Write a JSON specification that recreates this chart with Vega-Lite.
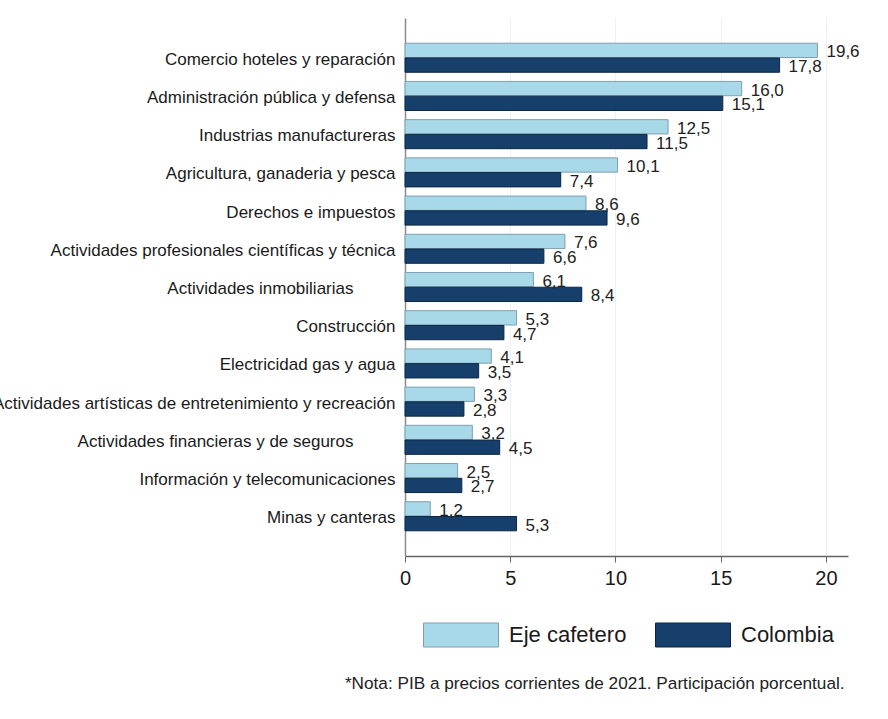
{
  "$schema": "https://vega.github.io/schema/vega-lite/v6.json",
  "width": 443,
  "height": 538,
  "autosize": {"type": "none"},
  "padding": {"left": 405, "top": 18, "right": 40, "bottom": 163},
  "background": "white",
  "config": {
    "font": "Liberation Sans",
    "view": {"stroke": null},
    "locale": {"number": {"decimal": ",", "thousands": ".", "grouping": [3], "currency": ["$", ""]}}
  },
  "title": {
    "text": "*Nota: PIB a precios corrientes de 2021. Participación porcentual.",
    "orient": "bottom",
    "anchor": "end",
    "fontSize": 17.2,
    "fontWeight": "normal",
    "color": "#222222",
    "offset": 26,
    "dx": -15
  },
  "data": {
    "values": [
      {"sector": "Comercio hoteles y reparación", "serie": "Eje cafetero", "valor": 19.6},
      {"sector": "Comercio hoteles y reparación", "serie": "Colombia", "valor": 17.8},
      {"sector": "Administración pública y defensa", "serie": "Eje cafetero", "valor": 16.0},
      {"sector": "Administración pública y defensa", "serie": "Colombia", "valor": 15.1},
      {"sector": "Industrias manufactureras", "serie": "Eje cafetero", "valor": 12.5},
      {"sector": "Industrias manufactureras", "serie": "Colombia", "valor": 11.5},
      {"sector": "Agricultura, ganaderia y pesca", "serie": "Eje cafetero", "valor": 10.1},
      {"sector": "Agricultura, ganaderia y pesca", "serie": "Colombia", "valor": 7.4},
      {"sector": "Derechos e impuestos", "serie": "Eje cafetero", "valor": 8.6},
      {"sector": "Derechos e impuestos", "serie": "Colombia", "valor": 9.6},
      {"sector": "Actividades profesionales científicas y técnica", "serie": "Eje cafetero", "valor": 7.6},
      {"sector": "Actividades profesionales científicas y técnica", "serie": "Colombia", "valor": 6.6},
      {"sector": "Actividades inmobiliarias", "serie": "Eje cafetero", "valor": 6.1},
      {"sector": "Actividades inmobiliarias", "serie": "Colombia", "valor": 8.4},
      {"sector": "Construcción", "serie": "Eje cafetero", "valor": 5.3},
      {"sector": "Construcción", "serie": "Colombia", "valor": 4.7},
      {"sector": "Electricidad gas y agua", "serie": "Eje cafetero", "valor": 4.1},
      {"sector": "Electricidad gas y agua", "serie": "Colombia", "valor": 3.5},
      {"sector": "Actividades artísticas de entretenimiento y recreación", "serie": "Eje cafetero", "valor": 3.3},
      {"sector": "Actividades artísticas de entretenimiento y recreación", "serie": "Colombia", "valor": 2.8},
      {"sector": "Actividades financieras y de seguros", "serie": "Eje cafetero", "valor": 3.2},
      {"sector": "Actividades financieras y de seguros", "serie": "Colombia", "valor": 4.5},
      {"sector": "Información y telecomunicaciones", "serie": "Eje cafetero", "valor": 2.5},
      {"sector": "Información y telecomunicaciones", "serie": "Colombia", "valor": 2.7},
      {"sector": "Minas y canteras", "serie": "Eje cafetero", "valor": 1.2},
      {"sector": "Minas y canteras", "serie": "Colombia", "valor": 5.3}
    ]
  },
  "encoding": {
    "y": {
      "field": "sector",
      "type": "nominal",
      "sort": null,
      "scale": {"paddingInner": 0.24, "paddingOuter": 0.66},
      "axis": {
        "title": null,
        "ticks": false,
        "labelFontSize": 17,
        "labelColor": "#1a1a1a",
        "labelOffset": 2,
        "labelPadding": {
          "condition": {"test": "datum.value === 'Actividades inmobiliarias' || datum.value === 'Actividades financieras y de seguros'", "value": 52},
          "value": 10
        },
        "labelLimit": 0,
        "domainColor": "#8c8c8c",
        "domainWidth": 1.5
      }
    },
    "yOffset": {
      "field": "serie",
      "type": "nominal",
      "sort": ["Eje cafetero", "Colombia"],
      "scale": {"paddingInner": 0.03}
    },
    "x": {
      "field": "valor",
      "type": "quantitative",
      "scale": {"domain": [0, 21.05], "nice": false},
      "axis": {
        "title": null,
        "values": [0, 5, 10, 15, 20],
        "labelFontSize": 20,
        "labelColor": "#1a1a1a",
        "labelPadding": 6,
        "tickSize": 6,
        "tickColor": "#666666",
        "domainColor": "#666666",
        "domainWidth": 1.5,
        "grid": true,
        "gridColor": "#eaf2f2",
        "labelFlush": false
      }
    }
  },
  "layer": [
    {
      "mark": {"type": "bar", "strokeWidth": 1},
      "encoding": {
        "color": {
          "field": "serie",
          "type": "nominal",
          "sort": ["Eje cafetero", "Colombia"],
          "scale": {"domain": ["Eje cafetero", "Colombia"], "range": ["#a7d9e8", "#16406b"]},
          "legend": {
            "title": null,
            "orient": "none",
            "legendX": 18,
            "legendY": 579,
            "direction": "horizontal",
            "symbolType": "M-1,-0.32H1V0.32H-1Z",
            "symbolSize": 5625,
            "symbolStrokeColor": "#7795a6",
            "symbolStrokeWidth": 1,
            "symbolOpacity": 1,
            "labelFontSize": 22,
            "labelColor": "#1a1a1a",
            "labelOffset": 10,
            "columnPadding": 26
          }
        },
        "stroke": {
          "field": "serie",
          "type": "nominal",
          "scale": {"domain": ["Eje cafetero", "Colombia"], "range": ["#7f9fb0", "#0c2641"]},
          "legend": null
        }
      }
    },
    {
      "mark": {"type": "text", "align": "left", "baseline": "middle", "dx": 9, "dy": 2, "fontSize": 17, "color": "#222222"},
      "encoding": {
        "text": {"field": "valor", "type": "quantitative", "format": ".1f"}
      }
    }
  ]
}
